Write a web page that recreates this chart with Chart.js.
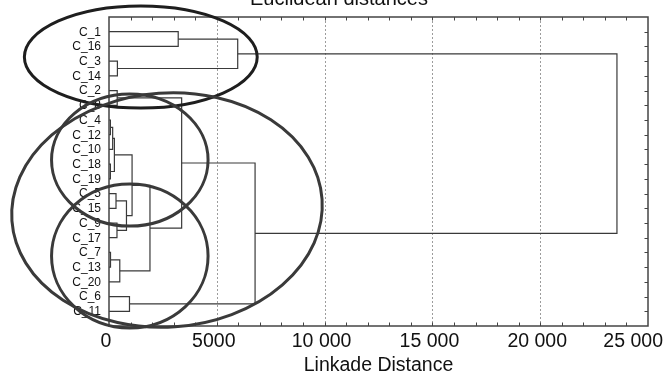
<!DOCTYPE html>
<html>
<head>
<meta charset="utf-8">
<script src="https://cdn.jsdelivr.net/npm/chart.js@4/dist/chart.umd.min.js"></script>
<style>
  html, body { margin: 0; padding: 0; background: #ffffff; }
  #wrap { width: 666px; height: 373px; position: relative; }
</style>
</head>
<body>
<div id="wrap"><canvas id="dendro" width="666" height="373"></canvas></div>
<script>
// Leaf order along the vertical axis (top to bottom)
const leafLabels = ['C_1','C_16','C_3','C_14','C_2','C_8','C_4','C_12','C_10','C_18',
                    'C_19','C_5','C_15','C_9','C_17','C_7','C_13','C_20','C_6','C_11'];

// Agglomeration steps: ids 0..19 are leaves, id 20+k is the cluster built at step k
const mergeLeft   = [0, 2, 20, 4, 6, 24, 9, 25, 11, 13, 28, 27, 15, 32, 31, 23, 18, 35, 22];
const mergeRight  = [1, 3, 21, 5, 7, 8, 10, 26, 12, 14, 29, 30, 16, 17, 33, 34, 19, 36, 37];
const mergeHeight = [3210, 390, 5970, 380, 65, 170, 65, 250, 325, 370, 810, 1070, 70, 500,
                     1900, 3370, 950, 6775, 23560];

// Distance axis tick labels
const distanceTicks = [0, 5000, 10000, 15000, 20000, 25000];
const distanceTickLabels = ['0', '5000', '10 000', '15 000', '20 000', '25 000'];

const chartTitle = 'Euclidean distances';
const axisTitle = 'Linkade Distance';

// Group outlines, given in data units (distance, leaf index)
const groupRings = [
  { cx: 1475, cy: 1.72, rx: 5400, ry: 3.47, tilt: 0.0,   color: '#1e1e1e' },
  { cx: 2690, cy: 12.12, rx: 7210, ry: 7.95, tilt: -0.07, color: '#3a3a3a' },
  { cx: 965, cy: 8.72, rx: 3630, ry: 4.49, tilt: 0.0,    color: '#3a3a3a' },
  { cx: 965, cy: 15.24, rx: 3630, ry: 4.89, tilt: 0.0,   color: '#3a3a3a' }
];

// Node heights and positions derived from the merge table
const nLeaves = leafLabels.length;
const nodeHeight = [];
const nodePos = [];
for (let i = 0; i < nLeaves; i++) { nodeHeight.push(0); nodePos.push(i); }
const linkSets = [];
for (let k = 0; k < mergeHeight.length; k++) {
  const a = mergeLeft[k], b = mergeRight[k], h = mergeHeight[k];
  linkSets.push({
    data: [
      { x: nodeHeight[a], y: nodePos[a] },
      { x: h, y: nodePos[a] },
      { x: h, y: nodePos[b] },
      { x: nodeHeight[b], y: nodePos[b] }
    ],
    showLine: true,
    borderColor: '#3a3a3a',
    borderWidth: 1.2,
    pointRadius: 0,
    fill: false,
    tension: 0
  });
  nodeHeight.push(h);
  nodePos.push((nodePos[a] + nodePos[b]) / 2);
}

const FONT = '"Liberation Sans", Arial, sans-serif';

const framePlugin = {
  id: 'frame',
  beforeDatasetsDraw(chart) {
    const { ctx, chartArea: a, scales } = chart;
    const xs = scales.x, ys = scales.y;
    ctx.save();
    // dotted vertical grid
    ctx.strokeStyle = '#9c9c9c';
    ctx.lineWidth = 1;
    ctx.setLineDash([2, 2]);
    distanceTicks.forEach(v => {
      if (v <= xs.min || v >= xs.max) return;
      const px = Math.round(xs.getPixelForValue(v)) + 0.5;
      ctx.beginPath(); ctx.moveTo(px, a.top); ctx.lineTo(px, a.bottom); ctx.stroke();
    });
    ctx.setLineDash([]);
    // minor ticks along top and bottom, every 1000
    ctx.strokeStyle = '#444';
    for (let v = 1000; v < xs.max; v += 1000) {
      const px = Math.round(xs.getPixelForValue(v)) + 0.5;
      ctx.beginPath(); ctx.moveTo(px, a.top); ctx.lineTo(px, a.top + 3.5); ctx.stroke();
      ctx.beginPath(); ctx.moveTo(px, a.bottom); ctx.lineTo(px, a.bottom - 3.5); ctx.stroke();
    }
    // ticks along the right edge at each leaf
    for (let i = 0; i < nLeaves; i++) {
      const py = Math.round(ys.getPixelForValue(i)) + 0.5;
      ctx.beginPath(); ctx.moveTo(a.right, py); ctx.lineTo(a.right - 3.5, py); ctx.stroke();
    }
    ctx.restore();
  },
  afterDatasetsDraw(chart) {
    const { ctx, chartArea: a, scales } = chart;
    const xs = scales.x, ys = scales.y;
    ctx.save();
    // plot frame
    ctx.strokeStyle = '#444';
    ctx.lineWidth = 1.5;
    ctx.strokeRect(a.left, a.top, a.right - a.left, a.bottom - a.top);

    // leaf labels
    ctx.fillStyle = '#111';
    ctx.font = '12px ' + FONT;
    ctx.textAlign = 'right';
    ctx.textBaseline = 'middle';
    leafLabels.forEach((lab, i) => {
      ctx.fillText(lab, a.left - 8, ys.getPixelForValue(i) + 0.5);
    });

    // distance tick labels
    ctx.font = '19.5px ' + FONT;
    ctx.textAlign = 'center';
    ctx.textBaseline = 'alphabetic';
    const W = chart.width;
    distanceTicks.forEach((v, i) => {
      const lab = distanceTickLabels[i];
      const w = ctx.measureText(lab).width;
      let cx = xs.getPixelForValue(v) - 3;
      if (cx + w / 2 > W - 3) cx = W - 3 - w / 2;
      ctx.fillText(lab, cx, a.bottom + 21);
    });

    // axis title
    ctx.fillText(axisTitle, (a.left + a.right) / 2, 371);

    // chart title, sitting at the very top edge
    ctx.font = '20px ' + FONT;
    ctx.textAlign = 'left';
    ctx.fillText(chartTitle, 250, 4.5);

    // group outlines
    ctx.lineWidth = 3;
    groupRings.forEach(r => {
      const cx = xs.getPixelForValue(r.cx);
      const cy = ys.getPixelForValue(r.cy);
      const rx = Math.abs(xs.getPixelForValue(r.cx + r.rx) - cx);
      const ry = Math.abs(ys.getPixelForValue(r.cy + r.ry) - cy);
      ctx.strokeStyle = r.color;
      ctx.beginPath();
      ctx.ellipse(cx, cy, rx, ry, r.tilt, 0, Math.PI * 2);
      ctx.stroke();
    });
    ctx.restore();
  }
};

new Chart(document.getElementById('dendro'), {
  type: 'scatter',
  data: { datasets: linkSets },
  options: {
    responsive: false,
    animation: false,
    layout: { padding: { left: 109, right: 18, top: 17, bottom: 47 } },
    plugins: { legend: { display: false }, tooltip: { enabled: false }, title: { display: false } },
    scales: {
      x: { type: 'linear', min: 0, max: 25000, display: false },
      y: { type: 'linear', min: -1, max: 20, reverse: true, display: false }
    }
  },
  plugins: [framePlugin]
});
</script>
</body>
</html>
